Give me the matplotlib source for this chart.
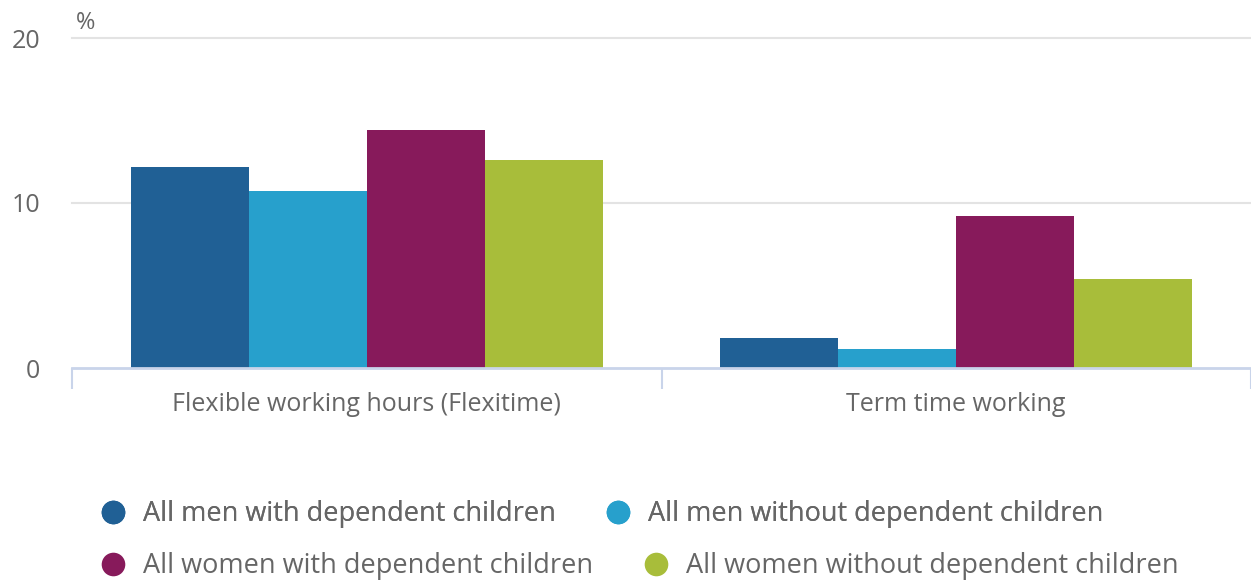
import numpy as np
import matplotlib.pyplot as plt
from matplotlib.lines import Line2D

plt.rcParams['font.family'] = ['Open Sans', 'DejaVu Sans']

categories = ['Flexible working hours (Flexitime)', 'Term time working']
series = ['All men with dependent children', 'All men without dependent children',
          'All women with dependent children', 'All women without dependent children']
men_with = [12.2, 1.8]
men_without = [10.7, 1.15]
women_with = [14.4, 9.2]
women_without = [12.6, 5.4]
colors = ['#206095', '#27a0cc', '#871a5b', '#a8bd3a']

values = [men_with, men_without, women_with, women_without]
txt = '#666666'
axis_col = '#c9d4ea'

fig = plt.figure(figsize=(12.51, 5.81), dpi=100)
ax = fig.add_axes([72 / 1251, 1 - 368 / 581, 1 - 72 / 1251, (368 - 38) / 581])

x = np.arange(len(categories))
w = 0.2
for i, (vals, c) in enumerate(zip(values, colors)):
    ax.bar(x + (i - 1.5) * w, vals, width=w, color=c, linewidth=0, zorder=3)

ax.set_xlim(-0.5, -0.5 + 1.982)
ax.set_ylim(0, 20)
ax.set_yticks([0, 10, 20])
ax.set_yticklabels(['0', '10', '20'])
ax.tick_params(axis='y', length=0, pad=23, labelsize=18, labelcolor=txt)
ax.set_xticks(x)
ax.set_xticklabels(categories)
ax.tick_params(axis='x', which='major', length=0, pad=17, labelsize=18, labelcolor=txt)
ax.set_xticks([-0.5, 0.5, 1.5], minor=True)
ax.tick_params(axis='x', which='minor', length=15, width=1.5, color=axis_col)

for s in ['top', 'right', 'left']:
    ax.spines[s].set_visible(False)
ax.spines['bottom'].set_color(axis_col)
ax.spines['bottom'].set_linewidth(2)
ax.spines['bottom'].set_zorder(4)

for v in [10, 20]:
    ax.axhline(v, color='#e3e3e3', linewidth=1.5, zorder=1, clip_on=False)

ax.text(0.003, 1.008, '%', transform=ax.transAxes, fontsize=17, color=txt, va='bottom', ha='left')

def handles(idx):
    return [Line2D([], [], linestyle='none', marker='o', markersize=17,
                   markerfacecolor=colors[i], markeredgewidth=0, label=series[i]) for i in idx]

leg_kw = dict(ncol=2, loc='center left', frameon=False, fontsize=19.5, labelcolor=txt,
              handlelength=1.0, handletextpad=0.61, columnspacing=1.8,
              borderpad=0, borderaxespad=0)
leg1 = fig.legend(handles=handles([0, 1]), bbox_to_anchor=(99.5 / 1251, 1 - 514 / 581), **leg_kw)
fig.add_artist(leg1)
fig.legend(handles=handles([2, 3]), bbox_to_anchor=(99.5 / 1251, 1 - 566 / 581), **leg_kw)

fig.savefig('out.png', dpi=100)
